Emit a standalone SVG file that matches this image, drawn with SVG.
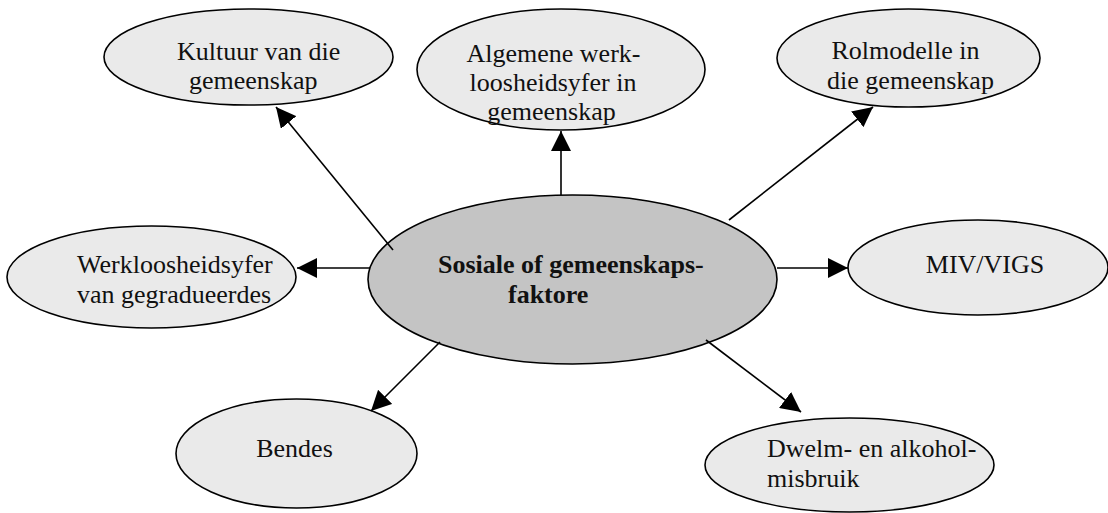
<svg xmlns="http://www.w3.org/2000/svg" width="1108" height="513" viewBox="0 0 1108 513">
<style>
.n{fill:#eaeaea;stroke:#000;stroke-width:1.6}
.c{fill:#c4c4c4;stroke:#000;stroke-width:1.6}
text{font-family:"Liberation Serif","Times New Roman",serif;font-size:26px;fill:#111}
.b{font-weight:bold}
.m{text-anchor:middle}
.e line{stroke:#000;stroke-width:1.6}
</style>
<defs>
<marker id="ah" viewBox="0 0 20 20" markerWidth="20" markerHeight="20" refX="20" refY="10" orient="auto" markerUnits="userSpaceOnUse">
<path d="M0,0 L20,10 L0,20 z" fill="#000"/>
</marker>
</defs>
<rect width="1108" height="513" fill="#fff"/>
<g id="kultuur">
<ellipse class="n" cx="248.5" cy="57" rx="144.5" ry="48"/>
<text x="177" y="60">Kultuur van die</text>
<text x="189" y="89">gemeenskap</text>
</g>
<g id="algemene">
<ellipse class="n" cx="561" cy="69.5" rx="144" ry="60.5"/>
<text class="m" x="553.5" y="62">Algemene werk-</text>
<text class="m" x="553" y="91">loosheidsyfer in</text>
<text class="m" x="551.5" y="120">gemeenskap</text>
</g>
<g id="rolmodelle">
<ellipse class="n" cx="908.5" cy="58" rx="131.5" ry="49"/>
<text class="m" x="905.5" y="59">Rolmodelle in</text>
<text class="m" x="910.5" y="89">die gemeenskap</text>
</g>
<g id="werkloosheid">
<ellipse class="n" cx="151.5" cy="277" rx="144.5" ry="51"/>
<text x="77" y="273">Werkloosheidsyfer</text>
<text x="77" y="303">van gegradueerdes</text>
</g>
<g id="sentraal">
<ellipse class="c" cx="572.5" cy="279.5" rx="204.5" ry="84.5"/>
<text class="b" x="438" y="273">Sosiale of gemeenskaps-</text>
<text class="b" x="508" y="303">faktore</text>
</g>
<g id="miv">
<ellipse class="n" cx="978" cy="267.5" rx="130" ry="47.5"/>
<text class="m" x="985" y="273">MIV/VIGS</text>
</g>
<g id="bendes">
<ellipse class="n" cx="296.5" cy="453.5" rx="120.5" ry="54.5"/>
<text class="m" x="294.5" y="457">Bendes</text>
</g>
<g id="dwelm">
<ellipse class="n" cx="849.5" cy="465" rx="144.5" ry="47"/>
<text x="767" y="457">Dwelm- en alkohol-</text>
<text x="767" y="487">misbruik</text>
</g>
<g id="connectors" class="e">
<line x1="393" y1="250" x2="276" y2="107" marker-end="url(#ah)"/>
<line x1="561" y1="195" x2="561" y2="131" marker-end="url(#ah)"/>
<line x1="729" y1="220" x2="873" y2="107" marker-end="url(#ah)"/>
<line x1="370" y1="268" x2="297" y2="268" marker-end="url(#ah)"/>
<line x1="777" y1="268" x2="848" y2="268" marker-end="url(#ah)"/>
<line x1="440" y1="342" x2="371" y2="411" marker-end="url(#ah)"/>
<line x1="706" y1="340" x2="801" y2="412" marker-end="url(#ah)"/>
</g>
</svg>
